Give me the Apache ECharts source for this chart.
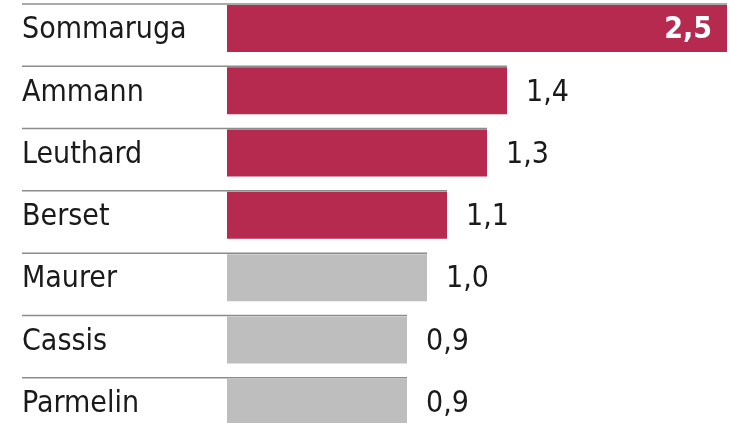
<!DOCTYPE html>
<html>
<head>
<meta charset="utf-8">
<script src="https://cdn.jsdelivr.net/npm/echarts@6/dist/echarts.min.js"></script>
<style>
html,body{margin:0;padding:0;background:#fff;}
#chart{width:730px;height:423px;}
</style>
</head>
<body>
<div id="chart"></div>
<script>
const categories = ['Sommaruga', 'Ammann', 'Leuthard', 'Berset', 'Maurer', 'Cassis', 'Parmelin'];
const values = [2.5, 1.4, 1.3, 1.1, 1.0, 0.9, 0.9];
const highlighted = ['Sommaruga', 'Ammann', 'Leuthard', 'Berset'];
const valueLabelsInside = ['Sommaruga'];

const FONT = '"DejaVu Sans Condensed", "DejaVu Sans", sans-serif';
const RED = '#b72a50';
const GRAY = '#bebebe';
const LINE = '#8c8c8c';
const LABEL_X = 22;

const chart = echarts.init(document.getElementById('chart'), null, {renderer: 'canvas'});

const fmt = v => v.toFixed(1).replace('.', ',');

chart.setOption({
  animation: false,
  grid: {left: 227, top: 4, width: 500, height: 436, containLabel: false, outerBoundsMode: 'none'},
  xAxis: {type: 'value', min: 0, max: 2.5, show: false},
  yAxis: {
    type: 'category', data: categories, inverse: true,
    axisLine: {show: false}, axisTick: {show: false}, splitLine: {show: false},
    axisLabel: {show: false}
  },
  series: [{
    type: 'custom',
    clip: false,
    data: values.map((v, i) => [v, i]),
    encode: {x: 0, y: 1},
    renderItem: function (params, api) {
      const v = api.value(0);
      const idx = api.value(1);
      const end = api.coord([v, idx]);
      const start = api.coord([0, idx]);
      const band = api.size([0, 1])[1];
      const top = end[1] - band / 2;
      const barH = 47;
      const name = categories[idx];
      const isHi = highlighted.indexOf(name) >= 0;
      const inside = valueLabelsInside.indexOf(name) >= 0;
      const cy = top + 1 + barH / 2;
      return {
        type: 'group',
        children: [
          {type: 'line', shape: {x1: LABEL_X, y1: top, x2: end[0], y2: top},
           style: {stroke: LINE, lineWidth: 1.5}},
          {type: 'rect', shape: {x: start[0], y: top + 1, width: end[0] - start[0], height: barH},
           style: {fill: isHi ? RED : GRAY}},
          {type: 'text', x: LABEL_X, y: cy + 2,
           style: {text: name, font: '30px ' + FONT, fill: '#1a1a1a', align: 'left', verticalAlign: 'middle'}},
          inside ?
          {type: 'text', x: end[0] - 15, y: cy + 2,
           style: {text: fmt(v), font: 'bold 30px ' + FONT, fill: '#ffffff', align: 'right', verticalAlign: 'middle'}} :
          {type: 'text', x: end[0] + 19, y: cy + 2,
           style: {text: fmt(v), font: '30px ' + FONT, fill: '#1a1a1a', align: 'left', verticalAlign: 'middle'}}
        ]
      };
    }
  }]
});
</script>
</body>
</html>
